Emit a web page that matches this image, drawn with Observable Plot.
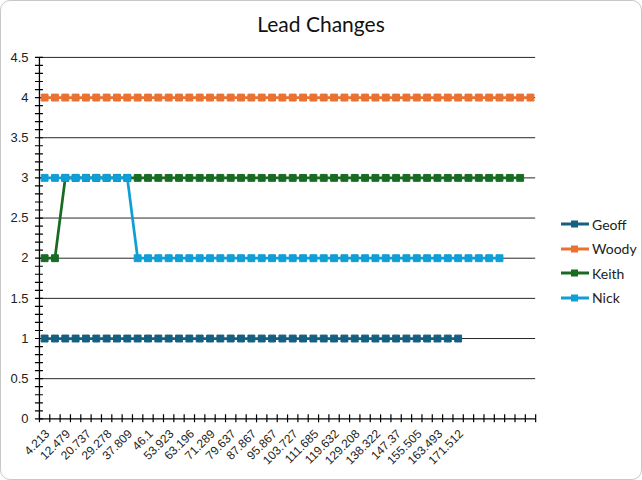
<!DOCTYPE html>
<html><head><meta charset="utf-8">
<script src="https://cdn.jsdelivr.net/npm/d3@7"></script>
<script src="https://cdn.jsdelivr.net/npm/@observablehq/plot@0.6"></script>
<style>
body{margin:0;background:#fff;}
#chart{position:relative;width:640px;height:478px;border:1px solid #c8c8c8;border-radius:10px;overflow:hidden;font-family:Lato,"Open Sans",sans-serif;}
#title{position:absolute;top:10px;left:0;width:100%;text-align:center;font-size:21px;color:#111;}
#plot{position:absolute;left:-1px;top:-1px;}
#legend{position:absolute;left:559px;top:211px;}
.item{display:flex;align-items:center;height:24.5px;font-size:14px;color:#222;}
.item svg{margin-right:2px;}
</style></head>
<body>
<div id="chart">
  <div id="plot"></div>
  <div id="title">Lead Changes</div>
  <div id="legend"></div>
</div>
<script>
// Visible category labels (every other category)
const xLabels = ["4.213","12.479","20.737","29.278","37.809","46.1","53.923","63.196","71.289","79.637","87.867","95.867","103.727","111.685","119.632","129.208","138.322","147.37","155.505","163.493","171.512"];
const nCategories = 48;

const names = ["Geoff","Woody","Keith","Nick"];
const colors = ["#156082","#E97132","#196B24","#0F9ED5"];

const geoff = [1,1,1,1,1,1,1,1,1,1,1,1,1,1,1,1,1,1,1,1,1,1,1,1,1,1,1,1,1,1,1,1,1,1,1,1,1,1,1,1,1];
const woody = [4,4,4,4,4,4,4,4,4,4,4,4,4,4,4,4,4,4,4,4,4,4,4,4,4,4,4,4,4,4,4,4,4,4,4,4,4,4,4,4,4,4,4,4,4,4,4,4];
const keith = [2,2,3,3,3,3,3,3,3,3,3,3,3,3,3,3,3,3,3,3,3,3,3,3,3,3,3,3,3,3,3,3,3,3,3,3,3,3,3,3,3,3,3,3,3,3,3];
const nick  = [3,3,3,3,3,3,3,3,3,2,2,2,2,2,2,2,2,2,2,2,2,2,2,2,2,2,2,2,2,2,2,2,2,2,2,2,2,2,2,2,2,2,2,2,2];

const yMajor = [0,0.5,1,1.5,2,2.5,3,3.5,4,4.5];
const yMinorStep = 0.1;
const yMax = 4.5;

const seriesValues = [geoff, woody, keith, nick];
const series = names.map((name,k) => ({name, color: colors[k], rows: seriesValues[k].map((v,i)=>({name, i, v}))}));

const yMinor = d3.range(0, yMax + 1e-9, yMinorStep).map(d => +d.toFixed(2));
const xBounds = d3.range(-0.5, nCategories, 1);
const xLabelRows = xLabels.map((t,j)=>({i:j*2, t}));

const axisFont = "'Liberation Sans', Arial, sans-serif";

const marks = [
  Plot.gridY(yMajor.filter(d=>d>0), {stroke:"#000", strokeOpacity:0.85, strokeWidth:1}),
  Plot.ruleX([-0.5], {stroke:"#000", strokeWidth:1.3}),
  Plot.ruleY([0], {stroke:"#000", strokeWidth:1.3}),
  Plot.axisY(yMinor, {tickSize:8, dx:4, tickFormat:()=> "", stroke:"#000", strokeWidth:1.2}),
  Plot.axisX(xBounds, {tickSize:8, dy:-4, tickFormat:()=> "", stroke:"#000", strokeWidth:1.2}),
  Plot.axisY(yMajor, {tickSize:0, tickPadding:11, tickFormat:d=>String(d), fontSize:13, fill:"#222", fontFamily:axisFont}),
  Plot.text(xLabelRows, {x:"i", y:()=>0, text:"t", rotate:-45, textAnchor:"end", lineAnchor:"middle", dx:3, dy:13, fontSize:12, fill:"#222", fontFamily:axisFont}),
];
for (const s of series) {
  marks.push(Plot.line(s.rows, {x:"i", y:"v", stroke:s.color, strokeWidth:2.75, strokeLinejoin:"round"}));
  marks.push(Plot.dot(s.rows, {x:"i", y:"v", symbol:"square", r:3.9, fill:s.color, stroke:s.color, strokeWidth:1}));
}

const chart = Plot.plot({
  width:642, height:480,
  marginLeft:39, marginRight:106, marginTop:57, marginBottom:61,
  x:{type:"linear", domain:[-0.5, nCategories-0.5], label:null},
  y:{domain:[0,yMax], label:null},
  style:{background:"transparent"},
  marks
});
document.getElementById("plot").appendChild(chart);

const legend = document.getElementById("legend");
names.forEach((n,k)=>{
  const div = document.createElement("div");
  div.className = "item";
  div.innerHTML = `<svg width="30" height="10"><line x1="1" x2="29" y1="5" y2="5" stroke="${colors[k]}" stroke-width="3"/><rect x="11" y="1.5" width="7" height="7" fill="${colors[k]}"/></svg><span>${n}</span>`;
  legend.appendChild(div);
});
</script>
</body></html>
